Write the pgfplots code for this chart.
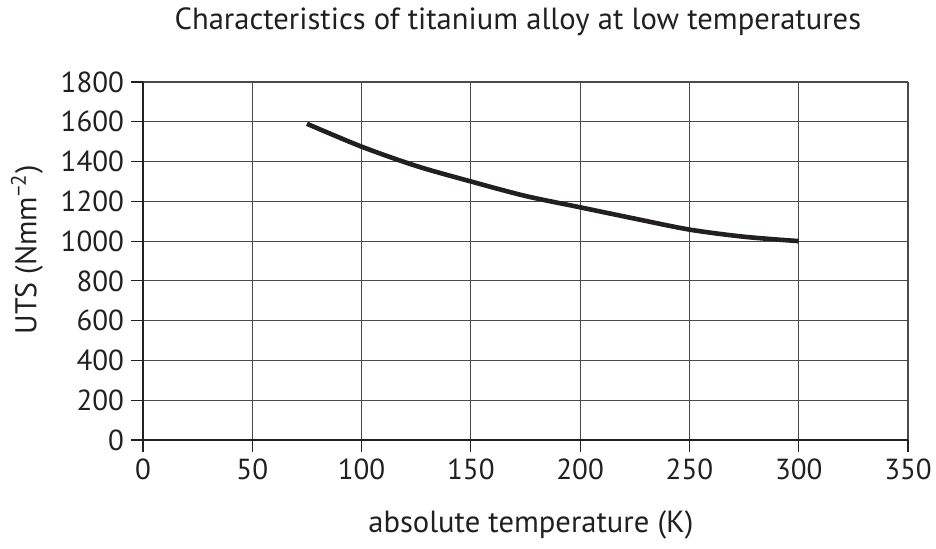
\documentclass[border=0pt]{standalone}
\usepackage{fontspec}
\setmainfont{PT Sans}
\usepackage{pgfplots}
\pgfplotsset{compat=1.18}
\definecolor{ink}{HTML}{231F20}
\definecolor{gridc}{HTML}{4A4A4A}
\begin{document}
\begin{tikzpicture}
\begin{axis}[
  at={(0,0)}, anchor=south west,
  scale only axis, width=382.5pt, height=179pt,
  xmin=0, xmax=350, ymin=0, ymax=1800,
  xtick={0,50,...,350}, ytick={0,200,...,1800},
  axis x line=bottom, axis y line=left,
  axis line style={line width=1.2pt, color=ink, -},
  tick align=outside, major tick length=6pt,
  tick style={color=ink, line width=0.6pt},
  grid=major, major grid style={gridc, line width=0.6pt},
  /pgf/number format/assume math mode=true,
  /pgf/number format/set thousands separator={},
  ticklabel style={font=\fontsize{14.5}{16}\selectfont, color=ink},
  title={Characteristics of titanium alloy at low temperatures},
  title style={font=\fontsize{15.3}{17}\selectfont, color=ink, at={(axis description cs:0.49,1)}, anchor=center, yshift=24pt},
  xlabel={absolute temperature (K)},
  xlabel style={font=\fontsize{15.3}{17}\selectfont, color=ink, at={(axis description cs:0.507,0)}, anchor=center, yshift=-42.5pt},
  ylabel={UTS (Nmm\textsuperscript{−2})},
  ylabel style={font=\fontsize{15}{17}\selectfont, color=ink, at={(axis description cs:-0.1516,0.531)}, anchor=center},
  clip=false,
]
\addplot[ink, line width=2.3pt, smooth, tension=0.5] coordinates {
  (75,1590) (100,1475) (125,1378) (150,1300) (175,1227) (200,1170)
  (225,1113) (250,1058) (275,1022) (300,1000)
};
\end{axis}
\pgfresetboundingbox
\path[use as bounding box] (-71.5pt,-54pt) rectangle (396.5pt,220pt);
\end{tikzpicture}
\end{document}
